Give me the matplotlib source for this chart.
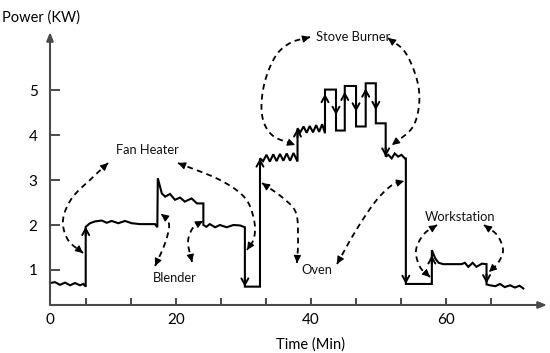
import numpy as np
import matplotlib
matplotlib.use("Agg")
import matplotlib.pyplot as plt
from matplotlib.patches import FancyArrowPatch

plt.rcParams['font.family'] = ['Lato', 'DejaVu Sans']

# ---------------- data ----------------
time_min = [1.33, 2.07, 2.81, 3.56, 4.30, 5.04, 5.78, 6.27, 6.62,
            6.62, 7.26, 8.0, 8.99, 9.73, 10.47, 11.46, 12.44, 13.43, 14.67, 16.89, 17.23,
            17.30, 17.9, 18.4, 19.1, 19.85, 20.6, 21.3, 22.3, 23.1, 24.05,
            24.05, 24.5, 25.0, 25.8, 26.5, 27.5, 28.5, 29.5, 30.2,
            30.2, 32.44,
            32.44, 32.9, 33.4, 33.9, 34.4, 34.9, 35.4, 35.9, 36.4, 36.9, 37.4, 38.0,
            38.0, 38.4, 38.9, 39.35, 39.8, 40.3, 40.75, 41.2, 41.65, 42.07,
            42.07, 43.7, 43.7, 45.0, 45.0, 46.67, 46.67, 48.1, 48.1, 49.6, 49.6, 51.06, 51.06,
            51.45, 51.95, 52.4, 52.9, 53.4, 53.9, 54.05,
            54.05, 57.9,
            57.9, 58.4, 58.9, 59.6, 62.3, 62.8, 63.3, 63.95, 64.5, 65.3, 66.0,
            66.0, 66.5, 67.3, 68.0, 68.7, 69.5, 70.2, 70.9, 71.45]
power_kw = [0.71, 0.73, 0.67, 0.72, 0.66, 0.71, 0.66, 0.69, 0.63,
            1.96, 2.04, 2.08, 2.10, 2.05, 2.09, 2.04, 2.09, 2.04, 2.02, 2.02, 1.95,
            3.04, 2.70, 2.63, 2.69, 2.56, 2.61, 2.52, 2.59, 2.48, 2.48,
            2.00, 1.96, 2.02, 1.95, 2.00, 1.95, 2.00, 1.99, 1.95,
            0.63, 0.63,
            3.48, 3.42, 3.56, 3.41, 3.57, 3.42, 3.58, 3.43, 3.59, 3.43, 3.60, 3.41,
            4.15, 4.06, 4.19, 4.05, 4.20, 4.06, 4.22, 4.07, 4.24, 4.04,
            5.01, 5.01, 4.10, 4.10, 5.09, 5.09, 4.19, 4.19, 5.15, 5.15, 4.26, 4.26, 3.52,
            3.56, 3.48, 3.59, 3.52, 3.56, 3.48, 3.48,
            0.69, 0.69,
            1.44, 1.26, 1.16, 1.13, 1.13, 1.16, 1.07, 1.16, 1.07, 1.14, 1.13,
            0.68, 0.66, 0.64, 0.69, 0.62, 0.66, 0.61, 0.65, 0.59]
# where the arrow head sits along each vertical step (None = no head)
step_heads = [1.0, None, 1.0, 1.0, 1.0, 0.9, 0.62, 0.87, 0.63, 0.88, 0.67, 1.0, 1.0, 0.85, 0.95]

y_ticks = [1, 2, 3, 4, 5]
x_tick_labels = ['0', '20', '40', '60']
x_minor_ticks = [20 / 3 * k for k in range(1, 11)]

appliances = ['Fan Heater', 'Stove Burner', 'Blender', 'Oven', 'Workstation']

# ---------------- figure ----------------
W, H = 550, 353
fig = plt.figure(figsize=(W / 100, H / 100), dpi=100)
ax = fig.add_axes([50 / W, (H - 305) / H, 497 / W, 273 / H])
X0, Y0 = 1.33, 0.222
ax.set_xlim(X0, 74.96)
ax.set_ylim(Y0, 6.29)

for s in ax.spines.values():
    s.set_visible(False)

axis_col = '#4a4a4a'
ax.annotate('', xy=(0, 1), xytext=(0, 0), xycoords='axes fraction',
            arrowprops=dict(arrowstyle='-|>,head_length=0.5,head_width=0.2', lw=1.5,
                            color=axis_col, shrinkA=0, shrinkB=0, mutation_scale=10))
ax.annotate('', xy=(1, 0), xytext=(0, 0), xycoords='axes fraction',
            arrowprops=dict(arrowstyle='-|>,head_length=0.5,head_width=0.2', lw=1.5,
                            color=axis_col, shrinkA=0, shrinkB=0, mutation_scale=10))

ax.set_yticks(y_ticks)
ax.set_yticklabels([str(v) for v in y_ticks])
ax.tick_params(axis='y', direction='in', length=7, width=1.4, color=axis_col,
               pad=9, labelsize=11)
ax.set_xticks([X0, 20, 40, 60])
ax.set_xticklabels(x_tick_labels)
ax.set_xticks(x_minor_ticks, minor=True)
ax.xaxis.remove_overlapping_locs = False
ax.tick_params(axis='x', which='major', direction='in', length=0, pad=6, labelsize=11)
ax.tick_params(axis='x', which='minor', direction='in', length=5, width=1.4, color=axis_col)

# ---------------- trace ----------------
ax.plot(time_min, power_kw, color='black', lw=1.5, solid_joinstyle='miter', clip_on=False)

# arrow heads on vertical steps
k = 0
for i in range(len(time_min) - 1):
    if time_min[i] == time_min[i + 1] and power_kw[i] != power_kw[i + 1]:
        frac = step_heads[k] if k < len(step_heads) else None
        k += 1
        if frac is None:
            continue
        p0, p1 = power_kw[i], power_kw[i + 1]
        d = np.sign(p1 - p0)
        tip = p0 + frac * (p1 - p0)
        ax.add_patch(FancyArrowPatch((time_min[i], tip - d * 0.2), (time_min[i], tip),
                                     arrowstyle='->,head_length=0.45,head_width=0.25',
                                     mutation_scale=10, lw=1.4, color='black',
                                     shrinkA=0, shrinkB=0))

# ---------------- annotations ----------------
def px2d(x, y):
    return (x - 41) / 6.75, (315 - y) / 45


def catmull(pts, n=20):
    pts = np.asarray(pts, float)
    P = np.vstack([2 * pts[0] - pts[1], pts, 2 * pts[-1] - pts[-2]])
    out = []
    for i in range(1, len(P) - 2):
        p0, p1, p2, p3 = P[i - 1], P[i], P[i + 1], P[i + 2]
        for s in np.linspace(0, 1, n, endpoint=False):
            out.append(0.5 * ((2 * p1) + (-p0 + p2) * s + (2 * p0 - 5 * p1 + 4 * p2 - p3) * s ** 2
                              + (-p0 + 3 * p1 - 3 * p2 + p3) * s ** 3))
    out.append(pts[-1])
    return np.array(out)


curves = [
    [(108, 163), (92, 178), (72, 198), (63, 220), (68, 240), (83, 253)],
    [(178, 163), (220, 180), (245, 198), (254, 220), (254, 238), (247, 250)],
    [(155, 266), (164, 246), (169, 228), (167, 219), (161, 214)],
    [(192, 262), (188, 243), (191, 231), (196, 225), (203, 221)],
    [(310, 37), (290, 43), (275, 57), (264, 85), (262, 115), (272, 135), (295, 145)],
    [(388, 38), (405, 52), (417, 80), (419, 105), (412, 128), (392, 145)],
    [(262, 183), (283, 198), (296, 213), (298, 240), (297, 263)],
    [(337, 264), (355, 232), (375, 202), (392, 185), (404, 181)],
    [(437, 225), (424, 234), (416, 250), (420, 267), (430, 277)],
    [(484, 225), (497, 235), (503, 250), (498, 263), (489, 272)],
]
for c in curves:
    cp = catmull(c)
    d = np.array([px2d(x, y) for x, y in cp])
    ax.plot(d[:, 0], d[:, 1], color='black', lw=1.3, ls=(0, (3.2, 2.4)), clip_on=False)
    for a, b in [(d[3], d[0]), (d[-4], d[-1])]:
        ax.add_patch(FancyArrowPatch(tuple(a), tuple(b),
                                     arrowstyle='-|>,head_length=0.45,head_width=0.22',
                                     mutation_scale=10, lw=0.8, color='black',
                                     shrinkA=0, shrinkB=0, clip_on=False))

label_pos = [(147, 150), (353, 37), (175, 278), (317, 270), (460, 217)]
for name, (x, y) in zip(appliances, label_pos):
    tx, ty = px2d(x, y)
    ax.text(tx, ty, name, ha='center', va='center', fontsize=9.3, color='#111111')

fig.text(2 / W, 1 - 18 / H, 'Power (KW)', ha='left', va='center', fontsize=10.5)
fig.text(310 / W, 1 - 345 / H, 'Time (Min)', ha='center', va='center', fontsize=10.5)

fig.savefig('out.png', dpi=100)
